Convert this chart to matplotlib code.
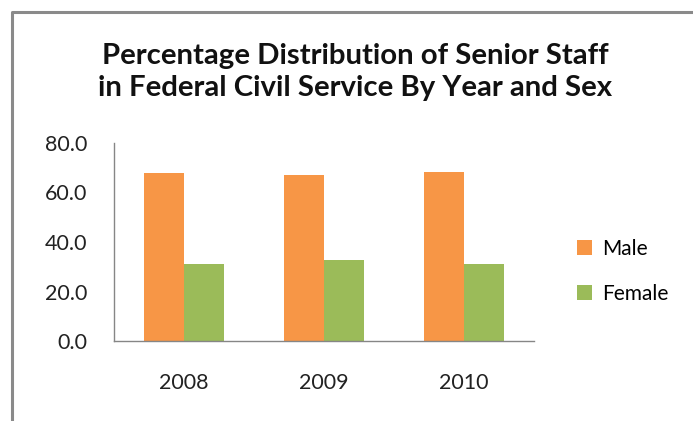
import matplotlib.pyplot as plt
import numpy as np
from matplotlib.patches import Patch
from matplotlib.lines import Line2D

years = ["2008", "2009", "2010"]
male = [68.0, 66.9, 68.4]
female = [31.3, 32.8, 31.2]
y_ticks = [0, 20, 40, 60, 80]

orange = "#F79646"
green = "#9BBB59"
axis_gray = "#868686"

plt.rcParams["font.family"] = ["Lato", "DejaVu Sans"]

fig = plt.figure(figsize=(6.93, 4.21), dpi=100)
ax = fig.add_axes([114 / 693, 1 - 341 / 421, 420 / 693, 198 / 421])

x = np.arange(len(years))
w = 1 / 3.5  # excel style gap width of 150%
ax.bar(x - w / 2, male, w, color=orange, label="Male")
ax.bar(x + w / 2, female, w, color=green, label="Female")

ax.set_xlim(-0.5, len(years) - 0.5)
ax.set_ylim(0, 80)
ax.set_yticks(y_ticks)
ax.set_yticklabels([f"{v:.1f}" for v in y_ticks])
ax.set_xticks(x)
ax.set_xticklabels(years)
ax.tick_params(axis="both", length=0, labelsize=15.5, colors="#222222")
ax.tick_params(axis="y", pad=19)
ax.tick_params(axis="x", pad=23)

for side in ("top", "right"):
    ax.spines[side].set_visible(False)
for side in ("left", "bottom"):
    ax.spines[side].set_color(axis_gray)
    ax.spines[side].set_linewidth(1.0)

handles = [Patch(facecolor=orange, label="Male"), Patch(facecolor=green, label="Female")]
fig.legend(handles=handles, loc="center left", bbox_to_anchor=(569 / 693, 1 - 271 / 421),
           frameon=False, fontsize=15, handlelength=0.7, handleheight=0.7,
           handletextpad=0.5, labelspacing=1.2, borderaxespad=0)

fig.text(355 / 693, 1 - 72 / 421,
         "Percentage Distribution of Senior Staff\nin Federal Civil Service By Year and Sex",
         ha="center", va="center", fontsize=21.2, fontweight="bold", linespacing=1.25,
         color="#111111")

# chart area border, only the top and left edges fall inside the image
fig.add_artist(Line2D([12.5 / 693, 12.5 / 693, 1.0], [0.0, 1 - 11.5 / 421, 1 - 11.5 / 421],
                      transform=fig.transFigure, color="#8a8a8a", linewidth=2.2))

fig.savefig("out.png", dpi=100)
